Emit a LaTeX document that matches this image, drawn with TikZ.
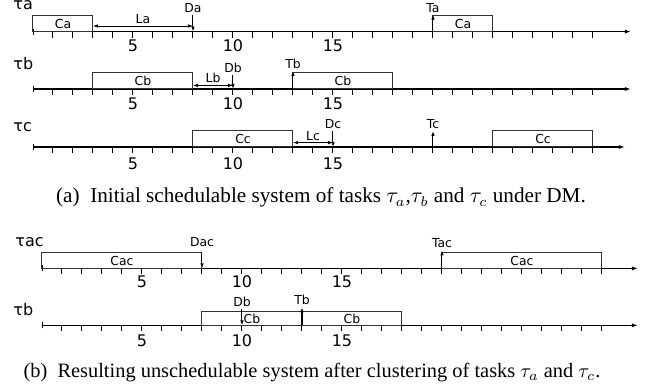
\documentclass[tikz,border=0pt]{standalone}
\usepackage{fontspec}
\setmainfont{Liberation Serif}
\newfontfamily\lblfont{DejaVu Sans}
\usetikzlibrary{arrows.meta}

\tikzset{
  axis/.style={line width=0.6pt,{Bar[width=3pt]}-{Latex[length=3pt,width=2pt]}},
  tick/.style={line width=0.5pt},
  job/.style={draw=black!80,line width=0.5pt},
  lbl/.style={font=\lblfont\fontsize{6.2}{7}\selectfont,inner sep=1pt},
  tsk/.style={font=\lblfont\fontsize{8}{9}\selectfont,anchor=base west,inner sep=0pt},
  num/.style={font=\lblfont\fontsize{8}{9}\selectfont,anchor=base,inner sep=0pt},
  evt/.style={line width=0.5pt,-{Latex[length=2.5pt,width=1.8pt]}},
  lat/.style={line width=0.4pt,{Latex[length=2.5pt,width=1.8pt]}-{Latex[length=2.5pt,width=1.8pt]}},
  captxt/.style={font=\fontsize{10.6}{12}\selectfont,anchor=base,inner sep=0pt}
}

\begin{document}
\begin{tikzpicture}[x=10pt,y=10pt]
    \useasboundingbox (0,0) rectangle (32.25,-19.55);

    % tau a
    \begin{scope}[shift={(1.65,-1.58)}]
        \coordinate (a0) at (0,0);
        \coordinate (aE) at (29.9,0);
        \draw[axis] (a0) -- (aE);
        \foreach \t in {1,...,28} \draw[tick] (\t,0) -- (\t,-0.3);
        \foreach \n in {5,10,15} \node[num] (an\n) at (\n,-1.0) {\n};
        \node[tsk] (TA) at (-1.0,1.08) {τa};
        \draw[job] (0,0) rectangle (3,0.8);
        \node[lbl] (Ca1) at (1.5,0.4) {Ca};
        \draw[job] (20,0) rectangle (23,0.8);
        \node[lbl] (Ca2) at (21.5,0.4) {Ca};
        \coordinate (la1) at (3,0.28);
        \coordinate (la2) at (8,0.28);
        \draw[lat] (la1) -- (la2) node[lbl,above,midway] (La) {La};
        \node[lbl,anchor=south] (Da) at (8,0.85) {Da};
        \coordinate (a8) at (8,0);
        \draw[evt] (Da.south) -- (a8);
        \node[lbl,anchor=south] (Ta) at (20,0.85) {Ta};
        \coordinate (a20) at (20,0);
        \draw[evt] (a20) -- (Ta.south);
    \end{scope}

    % tau b
    \begin{scope}[shift={(1.65,-4.45)}]
        \coordinate (b0) at (0,0);
        \coordinate (bE) at (29.9,0);
        \draw[axis] (b0) -- (bE);
        \foreach \t in {1,...,28} \draw[tick] (\t,0) -- (\t,-0.3);
        \foreach \n in {5,10,15} \node[num] (bn\n) at (\n,-1.05) {\n};
        \node[tsk] (TB) at (-1.0,0.97) {τb};
        \draw[job] (3,0) rectangle (8,0.8);
        \node[lbl] (Cb1) at (5.5,0.4) {Cb};
        \draw[job] (13,0) rectangle (18,0.8);
        \node[lbl] (Cb2) at (15.5,0.4) {Cb};
        \coordinate (lb1) at (8,0.18);
        \coordinate (lb2) at (10,0.18);
        \draw[lat] (lb1) -- (lb2) node[lbl,above,midway] (Lb) {Lb};
        \node[lbl,anchor=south] (Db) at (10,0.72) {Db};
        \coordinate (b10) at (10,0);
        \draw[evt] (Db.south) -- (b10);
        \node[lbl,anchor=south] (Tb) at (13,0.9) {Tb};
        \coordinate (b13) at (13,0);
        \draw[evt] (b13) -- (Tb.south);
    \end{scope}

    % tau c
    \begin{scope}[shift={(1.65,-7.35)}]
        \coordinate (c0) at (0,0);
        \coordinate (cE) at (29.6,0);
        \draw[axis] (c0) -- (cE);
        \foreach \t in {1,...,28} \draw[tick] (\t,0) -- (\t,-0.3);
        \foreach \n in {5,10,15} \node[num] (cn\n) at (\n,-1.1) {\n};
        \node[tsk] (TC) at (-1.0,0.75) {τc};
        \draw[job] (8,0) rectangle (13,0.8);
        \node[lbl] (Cc1) at (10.5,0.4) {Cc};
        \draw[job] (23,0) rectangle (28,0.8);
        \node[lbl] (Cc2) at (25.5,0.4) {Cc};
        \coordinate (lc1) at (13,0.22);
        \coordinate (lc2) at (15,0.22);
        \draw[lat] (lc1) -- (lc2) node[lbl,above,midway] (Lc) {Lc};
        \node[lbl,anchor=south] (Dc) at (15,0.8) {Dc};
        \coordinate (c15) at (15,0);
        \draw[evt] (Dc.south) -- (c15);
        \node[lbl,anchor=south] (Tc) at (20,0.8) {Tc};
        \coordinate (c20) at (20,0);
        \draw[evt] (c20) -- (Tc.south);
    \end{scope}

    \node[captxt] (capA) at (16.05,-10.15)
        {(a)\enspace Initial schedulable system of tasks $\tau_a$,$\tau_b$ and $\tau_c$ under DM.};

    % tau ac
    \begin{scope}[shift={(2.1,-13.42)}]
        \coordinate (d0) at (0,0);
        \coordinate (dE) at (29.8,0);
        \draw[axis] (d0) -- (dE);
        \foreach \t in {1,...,28} \draw[tick] (\t,0) -- (\t,-0.3);
        \foreach \n in {5,10,15} \node[num] (dn\n) at (\n,-0.97) {\n};
        \node[tsk] (TAC) at (-1.35,1.1) {τac};
        \draw[job] (0,0) rectangle (8,0.78);
        \node[lbl] (Cac1) at (4,0.39) {Cac};
        \draw[job] (20,0) rectangle (28,0.78);
        \node[lbl] (Cac2) at (24,0.39) {Cac};
        \node[lbl,anchor=south] (Dac) at (8,0.95) {Dac};
        \coordinate (dac) at (8,0.78);
        \coordinate (d8) at (8,0);
        \draw[evt] (dac) -- (d8);
        \node[lbl,anchor=south] (Tac) at (20,0.9) {Tac};
        \coordinate (d20) at (20,0);
        \draw[evt] (d20) -- (Tac.south);
    \end{scope}

    % tau b after clustering
    \begin{scope}[shift={(2.1,-16.27)}]
        \coordinate (e0) at (0,0);
        \coordinate (eE) at (29.8,0);
        \draw[axis] (e0) -- (eE);
        \foreach \t in {1,...,28} \draw[tick] (\t,0) -- (\t,-0.3);
        \foreach \n in {5,10,15} \node[num] (en\n) at (\n,-1.05) {\n};
        \node[tsk] (TB2) at (-1.45,0.5) {τb};
        \draw[job] (8,0) rectangle (13,0.7);
        \node[lbl] (Cb3) at (10.5,0.35) {Cb};
        \draw[job] (13,0) rectangle (18,0.7);
        \node[lbl] (Cb4) at (15.5,0.35) {Cb};
        \node[lbl,anchor=south] (Db2) at (10,0.82) {Db};
        \coordinate (e10) at (10,0);
        \draw[evt] (Db2.south) -- (e10);
        \node[lbl,anchor=south] (Tb2) at (13,0.9) {Tb};
        \coordinate (e13) at (13,0);
        \draw[evt,line width=1.2pt] (e13) -- (Tb2.south);
    \end{scope}

    \node[captxt,font=\fontsize{10.2}{12}\selectfont] (capB) at (15.6,-18.9)
        {(b)\enspace Resulting unschedulable system after clustering of tasks $\tau_a$ and $\tau_c$.};
\end{tikzpicture}
\end{document}
